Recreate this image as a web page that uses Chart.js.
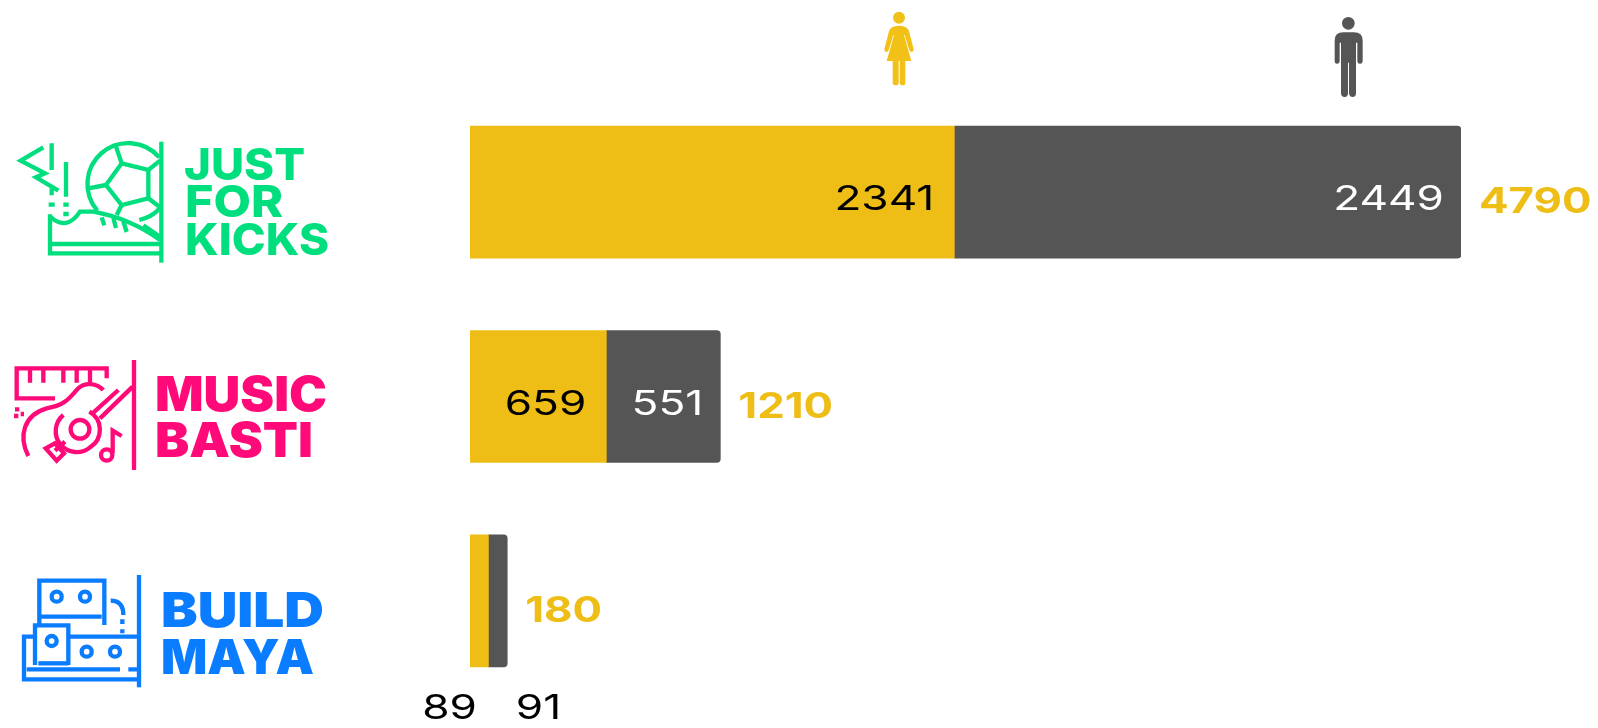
<!DOCTYPE html>
<html>
<head>
<meta charset="utf-8">
<title>Registrations by programme</title>
<script src="https://cdn.jsdelivr.net/npm/chart.js@4"></script>
<style>
  html, body { margin:0; padding:0; background:#fff; }
  canvas { display:block; }
</style>
</head>
<body>
<canvas id="grafica" width="1598" height="728"></canvas>
<script>
// data
const categories = ['Just For Kicks', 'Music Basti', 'Build Maya'];
const femaleValues = [2341, 659, 89];
const maleValues = [2449, 551, 91];
const totals = [4790, 1210, 180];

const AMARILLO = '#EEBE17';
const GRIS = '#555555';
const VERDE = '#00DE7E';
const ROSA = '#FF0A78';
const AZUL = '#0A7CFF';

// texto estirado a lo ancho, la fuente original es extendida
function textoAncho(ctx, txt, x, base, font, color, sx, align) {
  ctx.save();
  ctx.font = font;
  ctx.fillStyle = color;
  ctx.textBaseline = 'alphabetic';
  ctx.textAlign = 'left';
  const w = ctx.measureText(txt).width * sx;
  const x0 = align === 'right' ? x - w : x;
  ctx.translate(x0, base);
  ctx.scale(sx, 1);
  ctx.fillText(txt, 0, 0);
  ctx.restore();
}

// texto de logo ajustado a un ancho dado
function textoLogo(ctx, txt, x, base, ancho, font, color) {
  ctx.save();
  ctx.font = font;
  const sx = ancho / ctx.measureText(txt).width;
  ctx.restore();
  textoAncho(ctx, txt, x, base, font, color, sx, 'left');
}

// trazos en coordenadas del recorte x3
function trazos(ctx, oy, color, lista) {
  ctx.save();
  ctx.translate(0, oy);
  ctx.scale(1 / 3, 1 / 3);
  ctx.strokeStyle = color;
  ctx.lineWidth = 13;
  ctx.lineCap = 'butt';
  ctx.lineJoin = 'miter';
  lista.forEach(d => ctx.stroke(new Path2D(d)));
  ctx.restore();
}

function circulo(cx, cy, r) {
  return `M${cx + r},${cy} A${r},${r} 0 1 0 ${cx - r},${cy} A${r},${r} 0 1 0 ${cx + r},${cy} Z`;
}

const logoKicks = [
  'M484,65 L484,428',
  'M150,283 L150,400 L484,400',
  'M150,372 L484,372',
  'M150,290 Q200,335 240,275 L280,275 Q390,295 480,360',
  'M305,292 L313,316 M340,294 L348,324 M370,304 L380,336',
  'M130,82 L62,122 L135,160 L108,172 L175,212',
  'M155,70 L155,150 M198,126 L198,230',
  'M155,205 L155,226 M146,254 L164,254 M190,254 L206,254 M190,282 L206,282',
  'M292,272 A118,118 0 0 1 478,112',
  'M418,300 Q455,292 480,265 M430,316 L480,350',
  'M365,130 L445,150 L445,235 L365,255 L318,195 Z',
  'M365,130 L348,80 M445,150 L480,122 M445,235 L480,262 M365,255 L350,285 M318,195 L265,205'
];

const logoMusic = [
  'M402,60 L402,390',
  'M165,175 L50,175 L50,85 L320,85 L320,115',
  'M90,85 L90,128 M130,85 L130,128 M190,85 L190,128 M230,85 L230,128 M270,85 L270,128',
  'M85,348 C55,290 70,225 140,205 C200,195 210,170 235,145 C255,125 290,130 310,150',
  'M280,218 L355,150 M300,235 L398,140',
  circulo(240, 268, 28),
  'M268,215 A62,62 0 0 1 270,322 A62,62 0 0 1 190,225',
  'M195,305 L165,332 M137,325 L165,310 L192,340 L170,362 Z',
  circulo(320, 345, 17),
  'M338,340 L338,272 L365,288',
  'M45,208 L58,208 M42,228 L55,228 M62,222 L72,222'
];

const logoBuild = [
  'M417,705 L417,1042',
  'M118,852 L118,722 L313,722 L313,855',
  'M118,830 L305,830',
  circulo(170, 770, 15),
  circulo(255, 770, 15),
  'M332,782 C360,782 370,800 370,825',
  'M367,838 L367,852 M367,868 L367,880',
  'M105,975 L105,856 L205,856 L205,975',
  circulo(155, 903, 15),
  'M105,890 L72,890 L72,1018 L417,1018',
  'M205,890 L417,890',
  circulo(260, 935, 15),
  circulo(345, 935, 15),
  'M80,988 L360,988 M385,988 L417,988',
  'M115,970 L205,970'
];

const mujer = 'M92,85 Q100,77 117,77 Q134,77 142,85 Q148,92 150,105 L161,148 Q161,156 154,156 Q149,156 147,148 L134,105 L132,105 L154,183 L136,183 L136,248 Q136,256 128,256 Q120,256 119,248 L119,183 L116,183 L116,248 Q116,256 107,256 Q99,256 98,248 L98,183 L80,183 L102,105 L100,105 L87,148 Q85,156 80,156 Q73,156 73,148 L84,105 Q86,92 92,85 Z';
const hombre = 'M1424,122 Q1424,97 1450,97 L1482,97 Q1508,97 1508,122 L1508,182 Q1508,191 1500,191 Q1492,191 1492,182 L1492,128 L1488,128 L1488,280 Q1488,291 1478,291 Q1468,291 1467,280 L1467,188 L1464,188 L1464,280 Q1464,291 1454,291 Q1443,291 1443,280 L1443,128 L1439,128 L1439,182 Q1439,191 1431,191 Q1424,191 1424,182 Z';

const decoracion = {
  id: 'decoracion',
  afterDraw(chart) {
    const ctx = chart.ctx;

    // personas
    ctx.save();
    ctx.translate(860, 0);
    ctx.scale(1 / 3, 1 / 3);
    ctx.fillStyle = '#F2C118';
    ctx.fill(new Path2D(mujer));
    ctx.fill(new Path2D(circulo(117, 53, 18)));
    ctx.fillStyle = GRIS;
    ctx.fill(new Path2D(hombre));
    ctx.fill(new Path2D(circulo(1465, 70, 19)));
    ctx.restore();

    // logos
    trazos(ctx, 120, VERDE, logoKicks);
    trazos(ctx, 340, ROSA, logoMusic);
    trazos(ctx, 340, AZUL, logoBuild);
    const fLogo = '800 44px Inter';
    const fLogo2 = '900 48px Inter';
    textoLogo(ctx, 'JUST', 184, 180, 121, fLogo, VERDE);
    textoLogo(ctx, 'FOR', 185, 217, 98, fLogo, VERDE);
    textoLogo(ctx, 'KICKS', 185, 255, 144, fLogo, VERDE);
    textoLogo(ctx, 'MUSIC', 155, 411, 172, fLogo2, ROSA);
    textoLogo(ctx, 'BASTI', 155, 457, 158, fLogo2, ROSA);
    textoLogo(ctx, 'BUILD', 161, 627, 163, fLogo2, AZUL);
    textoLogo(ctx, 'MAYA', 161, 674, 153, fLogo2, AZUL);

    // valores
    const fNum = '400 34px Inter';
    const fTot = '700 35px Inter';
    const metaF = chart.getDatasetMeta(0).data;
    const metaM = chart.getDatasetMeta(1).data;
    categories.forEach((c, i) => {
      const barF = metaF[i], barM = metaM[i];
      if (barF.x - barF.base > 60) {
        textoAncho(ctx, String(femaleValues[i]), barF.x - 20, barF.y + 18, fNum, '#000', 1.3, 'right');
        textoAncho(ctx, String(maleValues[i]), barM.x - 17, barM.y + 18, fNum, '#fff', 1.3, 'right');
      } else {
        // barra muy angosta: etiquetas debajo
        textoAncho(ctx, String(femaleValues[i]), barF.base + 7, barF.y + 118, fNum, '#000', 1.3, 'right');
        textoAncho(ctx, String(maleValues[i]), barM.x + 54, barM.y + 118, fNum, '#000', 1.3, 'right');
      }
      textoAncho(ctx, String(totals[i]), barM.x + 18, barM.y + 21, fTot, AMARILLO, 1.25, 'left');
    });
  }
};

new Chart(document.getElementById('grafica'), {
  type: 'bar',
  data: {
    labels: categories,
    datasets: [
      { label: 'Female', data: femaleValues, backgroundColor: AMARILLO, barThickness: 132, borderSkipped: false },
      { label: 'Male', data: maleValues, backgroundColor: GRIS, barThickness: 132,
        borderRadius: { topRight: 4, bottomRight: 4, topLeft: 0, bottomLeft: 0 }, borderSkipped: false }
    ]
  },
  options: {
    indexAxis: 'y',
    responsive: false,
    animation: false,
    layout: { padding: { left: 470, right: 137, top: 90, bottom: 25 } },
    plugins: { legend: { display: false }, tooltip: { enabled: false } },
    scales: {
      x: { stacked: true, min: 0, max: 4790, display: false },
      y: { stacked: true, display: false }
    }
  },
  plugins: [decoracion]
});
</script>
</body>
</html>
